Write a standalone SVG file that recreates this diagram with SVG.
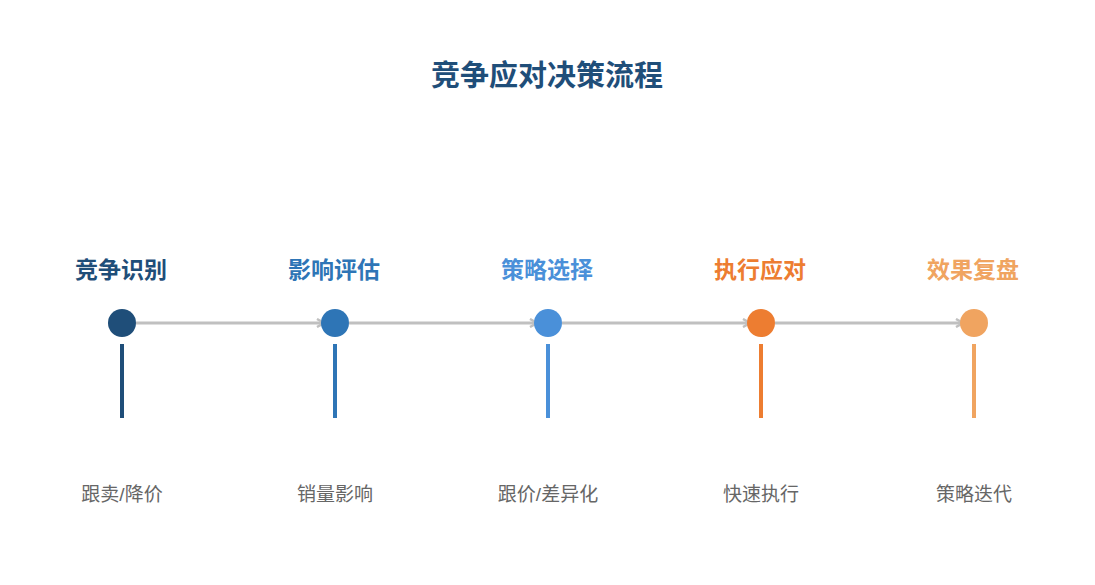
<svg xmlns="http://www.w3.org/2000/svg" width="1095" height="585" viewBox="0 0 1095 585">
<defs>
<marker id="arr" viewBox="0 0 10 10" refX="8" refY="5" markerWidth="10" markerHeight="10" markerUnits="userSpaceOnUse" orient="auto">
<path d="M1,1 L8,5 L1,9" fill="none" stroke="#c0c0c0" stroke-width="2.5"/>
</marker>
<style>
text{font-family:"Liberation Sans","Noto Sans CJK SC",sans-serif;text-anchor:middle}
.title{font-size:29px;font-weight:bold;fill:#1f4e79}
.lab{font-size:23px;font-weight:bold}
.desc{font-size:19px;fill:#666666}
.conn{stroke:#c0c0c0;stroke-width:3;fill:none}
.stem{stroke-width:4}
</style>
</defs>
<rect width="1095" height="585" fill="#ffffff"/>
<text class="title" x="547" y="86">竞争应对决策流程</text>
<g id="connectors">
<line class="conn" x1="136" y1="323" x2="324" y2="323" marker-end="url(#arr)"/>
<line class="conn" x1="349" y1="323" x2="537" y2="323" marker-end="url(#arr)"/>
<line class="conn" x1="562" y1="323" x2="750" y2="323" marker-end="url(#arr)"/>
<line class="conn" x1="775" y1="323" x2="963" y2="323" marker-end="url(#arr)"/>
</g>
<g id="n1">
<text class="lab" x="121" y="278" fill="#1f4e79">竞争识别</text>
<circle cx="122" cy="323" r="14" fill="#1f4e79"/>
<line class="stem" x1="122" y1="344" x2="122" y2="418" stroke="#1f4e79"/>
<text class="desc" x="122" y="501">跟卖/降价</text>
</g>
<g id="n2">
<text class="lab" x="334" y="278" fill="#2e75b6">影响评估</text>
<circle cx="335" cy="323" r="14" fill="#2e75b6"/>
<line class="stem" x1="335" y1="344" x2="335" y2="418" stroke="#2e75b6"/>
<text class="desc" x="335" y="501">销量影响</text>
</g>
<g id="n3">
<text class="lab" x="547" y="278" fill="#4a90d9">策略选择</text>
<circle cx="548" cy="323" r="14" fill="#4a90d9"/>
<line class="stem" x1="548" y1="344" x2="548" y2="418" stroke="#4a90d9"/>
<text class="desc" x="548" y="501">跟价/差异化</text>
</g>
<g id="n4">
<text class="lab" x="760" y="278" fill="#ed7d31">执行应对</text>
<circle cx="761" cy="323" r="14" fill="#ed7d31"/>
<line class="stem" x1="761" y1="344" x2="761" y2="418" stroke="#ed7d31"/>
<text class="desc" x="761" y="501">快速执行</text>
</g>
<g id="n5">
<text class="lab" x="973" y="278" fill="#f0a460">效果复盘</text>
<circle cx="974" cy="323" r="14" fill="#f0a460"/>
<line class="stem" x1="974" y1="344" x2="974" y2="418" stroke="#f0a460"/>
<text class="desc" x="974" y="501">策略迭代</text>
</g>
</svg>
